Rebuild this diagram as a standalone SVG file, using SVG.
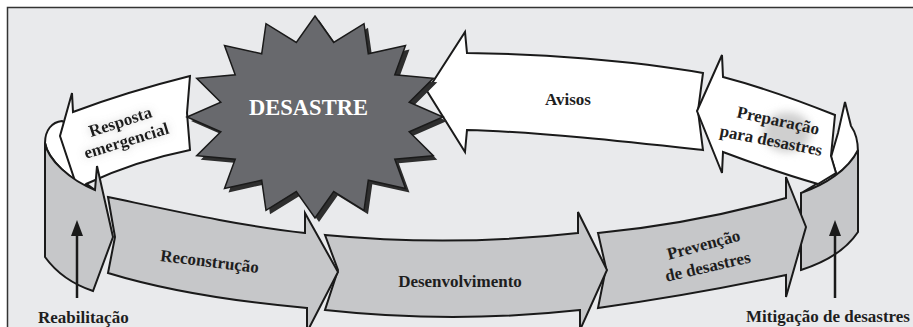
<svg xmlns="http://www.w3.org/2000/svg" width="913" height="327" viewBox="0 0 913 327">
<defs>
<style>
.w{fill:#ffffff;stroke:#1a1a1a;stroke-width:2;stroke-linejoin:miter}
.g{fill:#c6c7c9;stroke:#1a1a1a;stroke-width:2;stroke-linejoin:miter}
.t{font-family:"Liberation Serif","Times New Roman",serif;font-weight:bold;font-size:17px;fill:#1e1e1e}
.c{text-anchor:middle}
.ln{stroke:#1a1a1a;stroke-width:2.5;fill:none}
</style>
<filter id="glow" x="-30%" y="-60%" width="160%" height="220%">
<feGaussianBlur in="SourceAlpha" stdDeviation="4" result="b"/>
<feFlood flood-color="#8c8c8c" flood-opacity="0.45"/>
<feComposite in2="b" operator="in"/>
<feMerge><feMergeNode/><feMergeNode in="SourceGraphic"/></feMerge>
</filter>
<filter id="blur" x="-50%" y="-50%" width="200%" height="200%"><feGaussianBlur stdDeviation="4"/></filter>
<marker id="head" viewBox="0 0 12 15" refX="6" refY="1" markerWidth="12" markerHeight="15" markerUnits="userSpaceOnUse" orient="auto-start-reverse">
<path d="M6,0 L12,15 L0,15 Z" fill="#1a1a1a"/>
</marker>
</defs>
<rect x="7.5" y="7.5" width="920" height="330" fill="#e9eaec" stroke="#333" stroke-width="1.5"/>

<g id="avisos">
<path class="w" d="M427,91 L465,32 L467,53 C540,54 630,60 703,73 L698,111 L703,150 C630,142 540,132 467,130 L465,152 Z"/>
<text class="t c" x="568" y="105">Avisos</text>
</g>

<g id="curl-right">
<path class="w" d="M845,102 L851,126 C856,133 858,141 858,152 C848,170 826,184 803,192 L818,183 L836,173 L831,157 L838,133 Z"/>
</g>

<g id="preparacao">
<path class="w" d="M697,111 L722,55 L723,77 C765,88 805,103 835,115 L831,156 L836,173 L818,184 C790,176 755,164 723,152 L722,173 Z"/>
<ellipse cx="787" cy="132" rx="24" ry="20" fill="#cfcfcf" filter="url(#blur)"/>
<text class="t c" transform="translate(777,126) rotate(12)">Preparação</text>
<text class="t c" transform="translate(770,146) rotate(11)">para desastres</text>
</g>

<g id="mitigacao-band">
<path class="g" d="M801,193 C825,185 848,170 858,150 L858,232 C846,250 826,262 801,270 Z"/>
</g>

<g id="prevencao">
<path class="g" d="M598,233 Q692,224 786,198 L786,177 L806,227 L786,297 L786,275 Q692,295 598,308 L606,268 Z"/>
<text class="t c" transform="translate(705,250) rotate(-15)">Prevenção</text>
<text class="t c" transform="translate(709,272) rotate(-13)">de desastres</text>
</g>

<g id="desenvolvimento">
<path class="g" d="M325,235 Q453,247 578,233 L578,212 L607,270 L580,330 L580,310 Q453,324 325,310 L338,270 Z"/>
<text class="t c" x="460" y="287">Desenvolvimento</text>
</g>

<g id="curl-left">
<path class="w" d="M45,143 C45,130 52,122 62,121 L70,125 L84,182 L95,190 C70,180 48,160 45,143 Z"/>
</g>

<g id="resposta">
<path class="w" d="M190,76 L187,113 L190,150 C155,157 120,168 86,184 L78,190 L60,136 L72,93 L73,112 C110,98 150,86 190,76 Z"/>
<g filter="url(#glow)">
<text class="t c" transform="translate(122,127) rotate(-18)">Resposta</text>
<text class="t c" transform="translate(128,146) rotate(-17)">emergencial</text>
</g>
</g>

<g id="reconstrucao">
<path class="g" d="M108,197 C170,210 240,226 305,233 L305,213 L338,272 L307,332 L307,308 C240,302 170,292 108,273 L115,237 Z"/>
<text class="t c" transform="translate(209,267) rotate(7)">Reconstrução</text>
</g>

<g id="reabilitacao-band">
<path class="g" d="M45,143 L45,257 C58,275 75,285 93,291 L113,237 L97,166 L95,190 C70,180 48,160 45,143 Z"/>
</g>

<g id="desastre">
<path fill="#2e2e2e" transform="translate(4,4)" d="M315,16 L333.7,42.5 L364,23.7 L368.3,53.8 L405.5,45.6 L394.8,74.8 L433.3,78.3 L409.2,102.2 L443,117 L409.2,131.8 L433.3,155.7 L394.8,159.2 L405.5,188.4 L368.3,180.2 L364,210.3 L333.7,191.5 L315,218 L296.3,191.5 L266,210.3 L261.7,180.2 L224.5,188.4 L235.2,159.2 L196.7,155.7 L220.8,131.8 L187,117 L220.8,102.2 L196.7,78.3 L235.2,74.8 L224.5,45.6 L261.7,53.8 L266,23.7 L296.3,42.5 Z"/>
<path fill="#68696d" stroke="#1a1a1a" stroke-width="1.5" d="M315,16 L333.7,42.5 L364,23.7 L368.3,53.8 L405.5,45.6 L394.8,74.8 L433.3,78.3 L409.2,102.2 L443,117 L409.2,131.8 L433.3,155.7 L394.8,159.2 L405.5,188.4 L368.3,180.2 L364,210.3 L333.7,191.5 L315,218 L296.3,191.5 L266,210.3 L261.7,180.2 L224.5,188.4 L235.2,159.2 L196.7,155.7 L220.8,131.8 L187,117 L220.8,102.2 L196.7,78.3 L235.2,74.8 L224.5,45.6 L261.7,53.8 L266,23.7 L296.3,42.5 Z"/>
<text x="308.5" y="115" text-anchor="middle" style="font-family:'Liberation Serif','Times New Roman',serif;font-weight:bold;font-size:22.5px;fill:#ffffff">DESASTRE</text>
</g>

<g id="connectors">
<line class="ln" x1="77" y1="298" x2="77" y2="234"/>
<path d="M77,220 L83,236 L71,236 Z" fill="#1a1a1a"/>
<line class="ln" x1="835" y1="298" x2="835" y2="234"/>
<path d="M835,220 L841,236 L829,236 Z" fill="#1a1a1a"/>
</g>

<g id="labels">
<text class="t" x="38" y="323">Reabilitação</text>
<text class="t" x="746" y="322">Mitigação de desastres</text>
</g>
</svg>
